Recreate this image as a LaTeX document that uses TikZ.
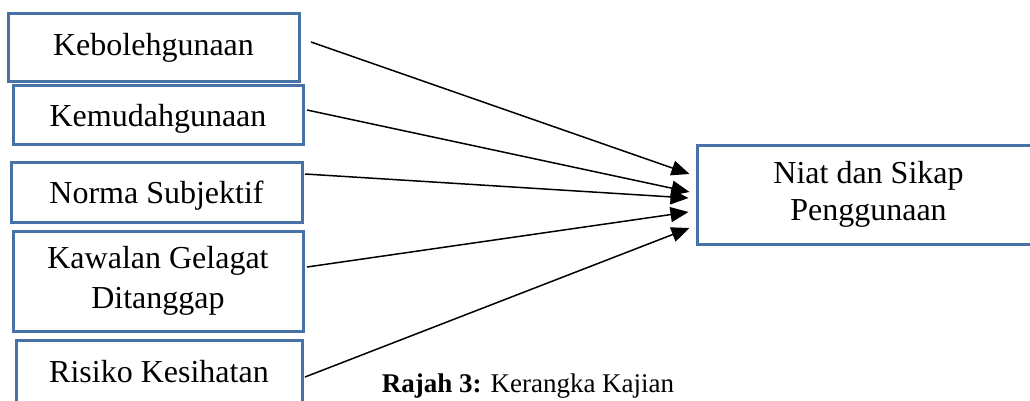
\documentclass[tikz,border=0pt]{standalone}
\usepackage{fontspec}
\setmainfont{Liberation Serif}
\usetikzlibrary{arrows.meta,calc}
\definecolor{boxblue}{RGB}{70,114,165}
\begin{document}
\begin{tikzpicture}[x=1pt,y=-1pt,
  box/.style={draw=boxblue,line width=3pt,rectangle,inner sep=0pt,align=center,
    font=\fontsize{32}{40}\selectfont},
  conn/.style={line width=1.5pt,-{Triangle[length=18pt,width=15pt]}},
  capt/.style={font=\fontsize{27}{30}\selectfont,anchor=base,inner sep=0pt}]
\useasboundingbox (0,0) rectangle (1030,401);
\clip (0,0) rectangle (1030,401);
% source boxes
\node[box,minimum width=291pt,minimum height=68pt] (b1) at (153.5,48) {Kebolehgunaan};
\node[box,minimum width=290pt,minimum height=58pt,text height=26pt,text depth=2pt] (b2) at (158,115) {Kemudahgunaan};
\node[box,minimum width=291pt,minimum height=60pt,text height=25pt,text depth=3pt] (b3) at (156.5,192) {Norma Subjektif};
\node[box,minimum width=290pt,minimum height=100pt] (b4) at (158,281) {Kawalan Gelagat\\Ditanggap};
\node[box,minimum width=286pt,minimum height=63pt] (b5) at (159,371.5) {Risiko Kesihatan};
% target box
\node[box,minimum width=343pt,minimum height=99pt,font=\fontsize{32}{37}\selectfont] (r) at (868.5,194.5) {Niat dan Sikap\\Penggunaan};
% connector ends
\coordinate (s1) at (311,42);
\coordinate (s2) at (307,110);
\coordinate (s3) at (305,174);
\coordinate (s4) at (307,267);
\coordinate (s5) at (305,377);
\coordinate (e1) at ($(r.west)+(-6,-20.5)$);
\coordinate (e2) at ($(r.west)+(-6,-2.5)$);
\coordinate (e3) at ($(r.west)+(-7,3.5)$);
\coordinate (e4) at ($(r.west)+(-7,17.5)$);
\coordinate (e5) at ($(r.west)+(-6,33.5)$);
\draw[conn] (s1) -- (e1);
\draw[conn] (s2) -- (e2);
\draw[conn] (s3) -- (e3);
\draw[conn] (s4) -- (e4);
\draw[conn] (s5) -- (e5);
% caption
\node[capt] (cap) at (528,392) {\textbf{Rajah 3:} Kerangka Kajian};
\end{tikzpicture}
\end{document}
